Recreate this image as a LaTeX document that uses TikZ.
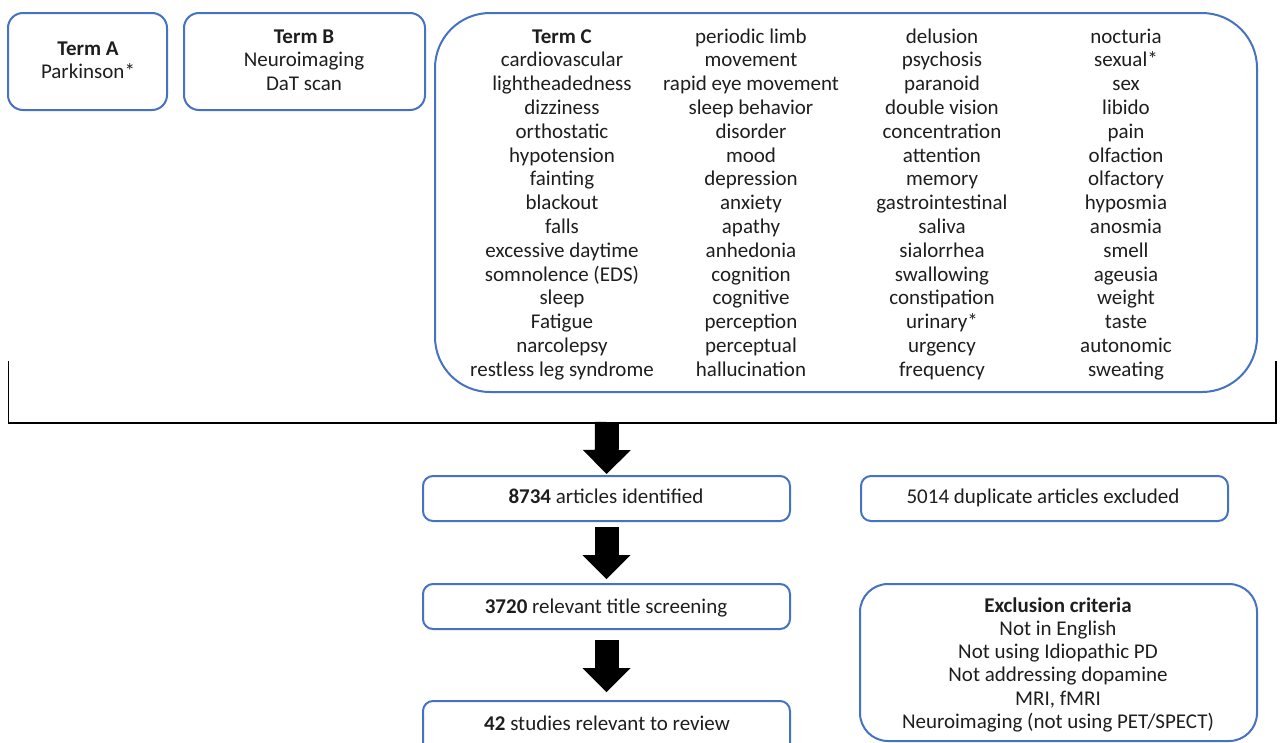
\documentclass[tikz,border=0pt]{standalone}
\usepackage{fontspec}
\setmainfont{Carlito}
\usetikzlibrary{arrows.meta}
\definecolor{boxblue}{RGB}{68,114,196}
\definecolor{txt}{RGB}{30,30,30}
\begin{document}
\begin{tikzpicture}[x=1pt,y=-1pt,
  box/.style={draw=boxblue, line width=2pt, inner sep=0pt, rounded corners=#1},
  box/.default=12pt,
  lbl/.style={anchor=base, inner sep=0pt, font=\fontsize{21}{24}\selectfont, text=txt},
  flow/.style={draw=black, line width=24pt, -{Triangle[width=48pt,length=24pt,line width=0pt]}},
  bracket/.style={draw=black, line width=1.5pt}]
\clip (0,0) rectangle (1285,742);
% top boxes
\node[box=15pt, minimum width=159pt, minimum height=97pt] (termA) at (87.5,61.5) {};
\node[box=15pt, minimum width=241pt, minimum height=97pt] (termB) at (304.5,61.5) {};
\node[box=55pt, minimum width=822pt, minimum height=379pt] (termC) at (846,202.5) {};
\node[lbl] (ta1) at (88,55) {\bfseries Term A};
\node[lbl] (ta2) at (88,78) {Parkinson*};
\node[lbl] (tb1) at (304,43) {\bfseries Term B};
\node[lbl] (tb2) at (304,66.5) {Neuroimaging};
\node[lbl] (tb3) at (304,90) {DaT scan};
\foreach \t [count=\i] in {{\bfseries Term C}, cardiovascular, lightheadedness, dizziness, orthostatic, hypotension, fainting, blackout, falls, excessive daytime, somnolence (EDS), sleep, Fatigue, narcolepsy, restless leg syndrome}
  \node[lbl] (ca\i) at (562,43+23.8*\i-23.8) {\t};
\foreach \t [count=\i] in {periodic limb, movement, rapid eye movement, sleep behavior, disorder, mood, depression, anxiety, apathy, anhedonia, cognition, cognitive, perception, perceptual, hallucination}
  \node[lbl] (cb\i) at (751,43+23.8*\i-23.8) {\t};
\foreach \t [count=\i] in {delusion, psychosis, paranoid, double vision, concentration, attention, memory, gastrointestinal, saliva, sialorrhea, swallowing, constipation, urinary*, urgency, frequency}
  \node[lbl] (cc\i) at (942,43+23.8*\i-23.8) {\t};
\foreach \t [count=\i] in {nocturia, sexual*, sex, libido, pain, olfaction, olfactory, hyposmia, anosmia, smell, ageusia, weight, taste, autonomic, sweating}
  \node[lbl] (cd\i) at (1126,43+23.8*\i-23.8) {\t};
% bracket
\coordinate (bl) at (8.5,361);
\coordinate (blc) at (8.5,423);
\coordinate (brc) at (1276,423);
\coordinate (br) at (1276,361);
\coordinate (split) at (607,422);
\draw[bracket] (bl) -- (blc) -- (brc) -- (br);
% flow boxes
\node[box=10pt, minimum width=367pt, minimum height=45pt] (n1) at (606.5,498.5) {};
\node[box=10pt, minimum width=367pt, minimum height=45pt] (n2) at (606.5,606.5) {};
\node[box=10pt, minimum width=367pt, minimum height=60pt] (n3) at (606.5,731) {};
\node[box=10pt, minimum width=367pt, minimum height=45pt] (x1) at (1044.5,498.5) {};
\node[box=28pt, minimum width=397pt, minimum height=157pt] (x2) at (1058.5,662.5) {};
\node[lbl] at (606,503) {\bfseries 8734\mdseries{} articles identified};
\node[lbl] at (606,613) {\bfseries 3720\mdseries{} relevant title screening};
\node[lbl] at (607,730) {\bfseries 42\mdseries{} studies relevant to review};
\node[lbl] at (1043,503) {5014 duplicate articles excluded};
\node[lbl] (e1) at (1058,612) {\bfseries Exclusion criteria};
\node[lbl] (e2) at (1058,635) {Not in English};
\node[lbl] (e3) at (1058,658) {Not using Idiopathic PD};
\node[lbl] (e4) at (1058,681.5) {Not addressing dopamine};
\node[lbl] (e5) at (1058,705) {MRI, fMRI};
\node[lbl] (e6) at (1058,728) {Neuroimaging (not using PET/SPECT)};
% arrows
\draw[flow, shorten >=1pt] (split) -- (n1.north);
\draw[flow, shorten <=5pt, shorten >=4pt] (n1.south) -- (n2.north);
\draw[flow, shorten <=10pt, shorten >=8pt] (n2.south) -- (n3.north);
\end{tikzpicture}
\end{document}
